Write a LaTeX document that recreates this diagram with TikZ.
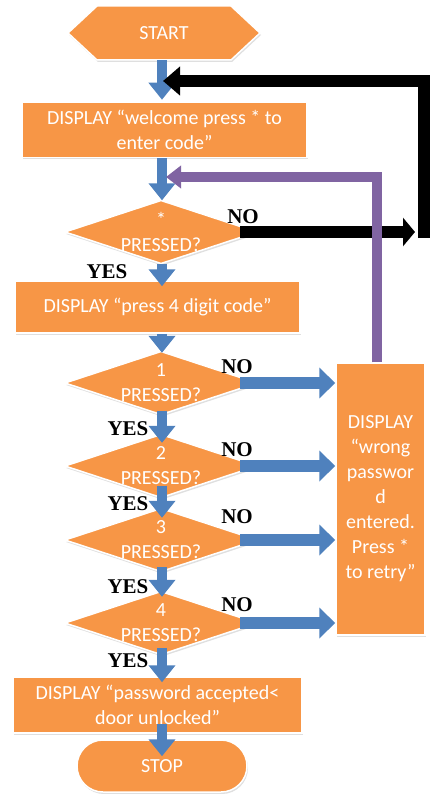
\documentclass[tikz,border=0pt]{standalone}
\usepackage{fontspec}
\setmainfont{Carlito}
\newfontfamily\lblfont{Liberation Serif}
\usetikzlibrary{arrows.meta,shadows,calc}
\definecolor{orng}{HTML}{F79646}
\definecolor{blu}{HTML}{4F81BD}
\definecolor{purp}{HTML}{8064A2}
\tikzset{
  shp/.style={fill=orng, draw=white, line width=1.5pt, line join=miter,
    drop shadow={opacity=0.25, shadow xshift=1pt, shadow yshift=-2pt}},
  txt/.style={text=white, font=\fontsize{20}{25}\selectfont, align=center, inner sep=0pt},
  box/.style={shp, txt, rectangle},
  dtxt/.style={txt, rectangle, minimum width=192pt, minimum height=63pt},
  yn/.style={font=\lblfont\bfseries\fontsize{21}{21}\selectfont, inner sep=0pt},
  varrow/.style={draw=blu, line width=10pt, -{Triangle[length=17pt,width=26pt]}},
  harrow/.style={draw=blu, line width=12pt, -{Triangle[length=16pt,width=30pt]}},
  blk/.style={draw=black, line width=11pt, line join=miter},
  prp/.style={draw=purp, line width=10pt, line join=miter, -{Triangle[length=15pt,width=22pt]}}
}
\newcommand{\decision}[4]{%
  \path[shp] (#2-96,#3) -- (#2,#3-31.5) -- (#2+96,#3) -- (#2,#3+31.5) -- cycle;
  \node[dtxt] (#1) at (#2,#3) {#4};}
\begin{document}
\begin{tikzpicture}[x=1pt,y=-1pt]
\useasboundingbox (0,0) rectangle (429,794);
\coordinate (ax) at (162,0);
% START hexagon
\path[shp] (68,33) -- (97,6) -- (231,6) -- (260,33) -- (231,60) -- (97,60) -- cycle;
\node[txt, minimum width=192pt, minimum height=54pt] (start) at (164,33) {START};
% boxes
\node[box, minimum width=285pt, minimum height=55pt] (d1) at (164.5,130) {DISPLAY “welcome press * to\\enter code”};
\decision{q0}{161}{232}{*\\PRESSED?}
\node[box, minimum width=285pt, minimum height=52pt] (d2) at (157.5,307) {DISPLAY “press 4 digit code”};
\decision{q1}{161}{383}{1\\PRESSED?}
\decision{q2}{161}{466}{2\\PRESSED?}
\decision{q3}{161}{540}{3\\PRESSED?}
\decision{q4}{161}{623}{4\\PRESSED?}
\node[box, minimum width=89pt, minimum height=272pt] (wrong) at (380.5,499) {DISPLAY\\“wrong\\passwor\\d\\entered.\\Press *\\to retry”};
\node[box, minimum width=289pt, minimum height=56pt] (d3) at (157.5,705) {DISPLAY “password accepted<\\door unlocked”};
\node[box, rounded corners=26pt, minimum width=170pt, minimum height=52pt] (stop) at (162,766) {STOP};
% vertical arrows
\draw[varrow] (start.south -| ax) -- ([yshift=2pt]d1.north -| ax);
\draw[varrow] (d1.south -| ax) -- (q0.north -| ax);
\draw[varrow] (q0.south -| ax) -- ([yshift=-6pt]d2.north -| ax);
\draw[varrow] (d2.south -| ax) -- ([yshift=-1.5pt]q1.north -| ax);
\draw[varrow] ([yshift=4pt]q1.south -| ax) -- ([yshift=-8.5pt]q2.north -| ax);
\draw[varrow] ([yshift=12pt]q2.south -| ax) -- ([yshift=-9.5pt]q3.north -| ax);
\draw[varrow] ([yshift=4.5pt]q3.south -| ax) -- ([yshift=-5.5pt]q4.north -| ax);
\draw[varrow] ([yshift=6.5pt]q4.south -| ax) -- ([yshift=-6pt]d3.north -| ax);
\draw[varrow] ([yshift=10pt]d3.south -| ax) -- ([yshift=-17pt]stop.north -| ax);
% horizontal NO arrows to wrong box
\draw[harrow] ([xshift=-17pt]q1.east) -- (q1.east -| wrong.west);
\draw[harrow] ([xshift=-17pt]q2.east) -- (q2.east -| wrong.west);
\draw[harrow] ([xshift=-17pt]q3.east) -- (q3.east -| wrong.west);
\draw[harrow] ([xshift=-17pt]q4.east) -- (q4.east -| wrong.west);
% black loop
\coordinate (bR) at (415,232);
\coordinate (bB) at (424,238);
\coordinate (bT) at (424,81);
\coordinate (j1) at (163,81);
\draw[blk, -{Triangle[length=12pt,width=28pt]}] ([xshift=-17pt]q0.east) -- (bR);
\draw[blk, line width=12pt, -{Triangle[length=17pt,width=28pt]}] (bB) -- (bT) -- (j1);
% purple loop
\coordinate (pc) at (377,177);
\coordinate (j2) at (166,177);
\draw[prp] (wrong.north -| pc) -- (pc) -- (j2);
% labels
\node[yn] (no0) at (243,217) {NO};
\node[yn] (yes0) at (107,272) {YES};
\node[yn] (no1) at (237,367) {NO};
\node[yn] (yes1) at (128,429) {YES};
\node[yn] (no2) at (237,450) {NO};
\node[yn] (yes2) at (128,504) {YES};
\node[yn] (no3) at (237,517) {NO};
\node[yn] (yes3) at (128,587) {YES};
\node[yn] (no4) at (237,605) {NO};
\node[yn] (yes4) at (128,661) {YES};
\end{tikzpicture}
\end{document}
